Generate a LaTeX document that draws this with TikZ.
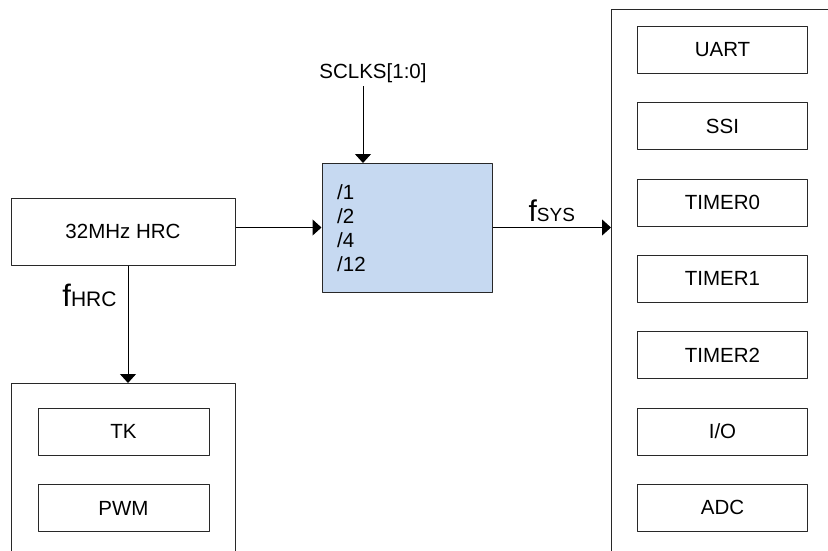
\documentclass[tikz,border=0pt]{standalone}
\usepackage{fontspec}
\setmainfont{Liberation Sans}
\usetikzlibrary{arrows.meta}
\definecolor{divblue}{RGB}{198,217,241}
\definecolor{linegray}{RGB}{40,40,40}
\begin{document}
\begin{tikzpicture}[x=1pt,y=-1pt, line join=round,
    font=\fontsize{20.5}{24}\selectfont,
    modbox/.style={draw=linegray, line width=1pt, minimum width=170pt, minimum height=47pt, inner sep=0pt},
    divbox/.style={draw=linegray, line width=1pt, fill=divblue, minimum width=170pt, minimum height=129pt, inner sep=0pt},
    wire/.style={draw=black, line width=1pt, -{Triangle[length=9pt,width=16pt]}}]
    \useasboundingbox (0,0) rectangle (828,550);
    % clock source and divider
    \node[modbox, minimum width=224pt, minimum height=67pt] (hrc) at (123,231.5) {32MHz HRC};
    \node[divbox] (div) at (407,227.5) {};
    \node[anchor=west, align=left, inner sep=0pt] (ratio) at (337,228) {/1\\/2\\/4\\/12};
    \node (sclks) at (373,73) {SCLKS[1:0]};
    \coordinate (sel) at (363,163);
    % peripheral panels
    \coordinate (rp) at (611,9);
    \coordinate (lp) at (128,383);
    \draw[linegray, line width=1pt] (611,551) -- (rp) -- (829,9);
    \draw[linegray, line width=1pt] (11,551) -- (11,383) -- (235,383) -- (235,551);
    \foreach \name/\k/\txt in {uart/0/UART, ssi/1/SSI, tmra/2/TIMER0, tmrb/3/TIMER1, tmrc/4/TIMER2, gpio/5/{I/O}, adc/6/ADC}
        \node[modbox] (\name) at (722.5,50+76.3*\k) {\txt};
    \node[modbox, minimum width=171pt] (tk) at (123.5,431.5) {TK};
    \node[modbox, minimum width=171pt] (pwm) at (123.5,508) {PWM};
    % clock paths
    \draw[wire] (hrc.east |- div.west) -- (div.west);
    \draw[wire] (sel |- sclks.south) -- (sel);
    \draw[wire] (div.east) -- (div.east -| rp)
        node[midway, anchor=base, yshift=6pt, inner sep=0pt] (fsys) {{\fontsize{30}{30}\selectfont f}{\fontsize{19}{19}\selectfont SYS}};
    \draw[wire] (hrc.south -| lp) -- (lp);
    \node[anchor=base, inner sep=0pt] (fhrc) at (89.5,306) {{\fontsize{31}{31}\selectfont f}{\fontsize{21}{21}\selectfont HRC}};
\end{tikzpicture}
\end{document}
